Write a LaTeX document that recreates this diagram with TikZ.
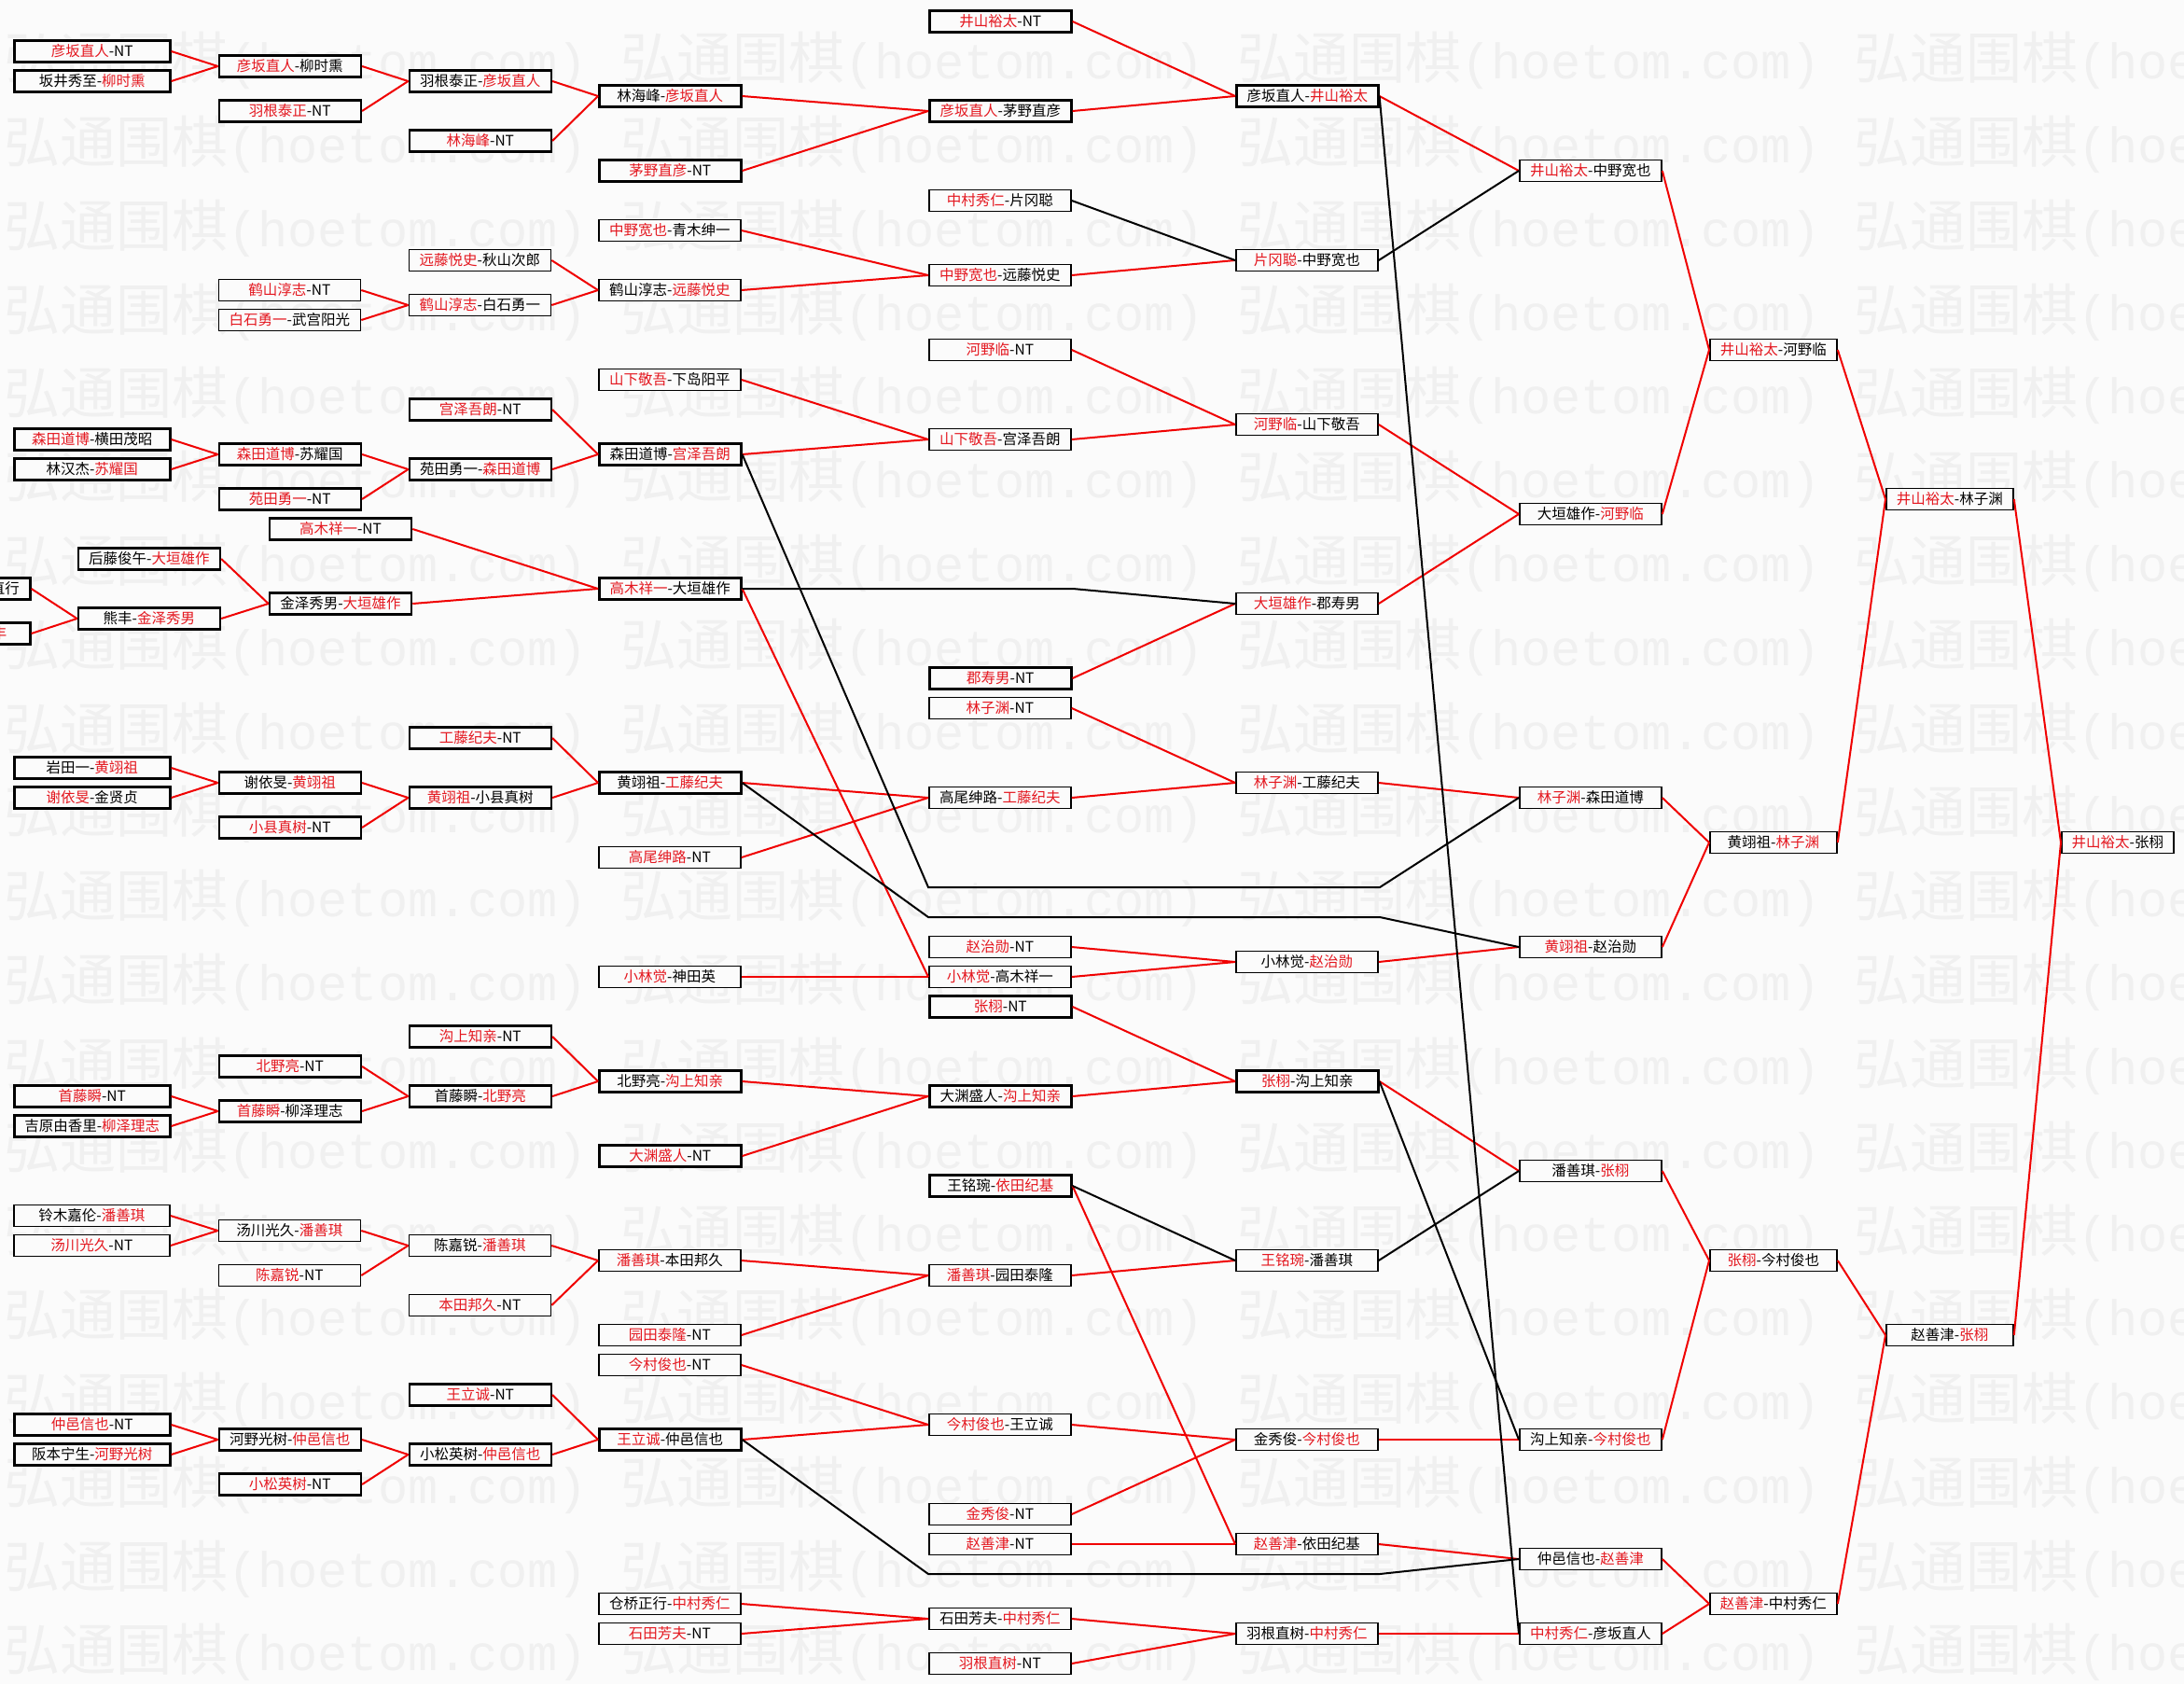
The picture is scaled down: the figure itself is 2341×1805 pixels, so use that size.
\documentclass[tikz,border=0pt]{standalone}
\usepackage{fontspec}
\setmainfont{Noto Sans CJK SC}
\newfontfamily\wmlat{Liberation Mono}
\definecolor{bg}{RGB}{251,251,251}
\definecolor{wmc}{RGB}{240,240,240}
\definecolor{txred}{RGB}{228,24,32}
\definecolor{lnred}{RGB}{240,0,0}
\newcommand\wred[1]{\textcolor{txred}{#1}}
\tikzset{
  box/.style={draw=black, fill=bg, line width=1.8pt, minimum height=23pt, inner sep=0pt, anchor=west, text height=13pt, text depth=1.5pt, font=\fontsize{15.5pt}{16pt}\selectfont},
  heavy/.style={line width=2.6pt},
  wA/.style={minimum width=167pt},
  wB/.style={minimum width=152pt},
  wC/.style={minimum width=136pt},
  wD/.style={minimum width=120pt},
  frag/.style={inner sep=0pt, text height=13pt, text depth=1.5pt, font=\fontsize{15.5pt}{16pt}\selectfont},
  wmk/.style={anchor=west, inner sep=0pt, text=wmc, font=\fontsize{60pt}{62pt}\selectfont},
  rl/.style={draw=lnred, line width=2pt},
  bl/.style={draw=black, line width=2pt},
}
\begin{document}
\begin{tikzpicture}[x=1pt,y=-1pt]
\useasboundingbox (0,0) rectangle (2341,1805);
\clip (0,0) rectangle (2341,1805);
\fill[bg] (0,0) rectangle (2341,1805);
% watermark
\foreach \n in {0,...,19}{
  \foreach \m in {0,...,3}{
    \node[wmk] (wm-\n-\m) at ({4+661*\m},{65+89.8*\n}) {弘通围棋{\wmlat\fontsize{53.6pt}{56pt}\selectfont (hoetom.com)}};
  }
}
% ---- column A (x=14)
\node[box,wA,heavy] (A3) at (14,{7+16*3}) {\wred{彦坂直人}-NT};
\node[box,wA,heavy] (A5) at (14,{7+16*5}) {坂井秀至-\wred{柳时熏}};
\node[box,wA,heavy] (A29) at (14,{7+16*29}) {\wred{森田道博}-横田茂昭};
\node[box,wA,heavy] (A31) at (14,{7+16*31}) {林汉杰-\wred{苏耀国}};
\node[box,wA,heavy] (A51) at (14,{7+16*51}) {岩田一-\wred{黄翊祖}};
\node[box,wA,heavy] (A53) at (14,{7+16*53}) {\wred{谢依旻}-金贤贞};
\node[box,wA,heavy] (A73) at (14,{7+16*73}) {\wred{首藤瞬}-NT};
\node[box,wA,heavy] (A75) at (14,{7+16*75}) {吉原由香里-\wred{柳泽理志}};
\node[box,wA] (A81) at (14,{7+16*81}) {铃木嘉伦-\wred{潘善琪}};
\node[box,wA] (A83) at (14,{7+16*83}) {\wred{汤川光久}-NT};
\node[box,wA,heavy] (A95) at (14,{7+16*95}) {\wred{仲邑信也}-NT};
\node[box,wA,heavy] (A97) at (14,{7+16*97}) {阪本宁生-\wred{河野光树}};
% ---- cut boxes at left edge
\node[box,wB,heavy,anchor=east] (Z39) at (33.6,{7+16*39}) {};
\node[frag,anchor=east] (Z39t) at (21,{7+16*39}) {直行};
\node[box,wB,heavy,anchor=east] (Z42) at (33.6,{7+16*42}) {};
\node[frag,anchor=east] (Z42t) at (7.5,{7+16*42}) {\wred{丰}};
% ---- column AA (x=82.6)
\node[box,wB,heavy] (AA37) at (82.6,{7+16*37}) {后藤俊午-\wred{大垣雄作}};
\node[box,wB,heavy] (AA41) at (82.6,{7+16*41}) {熊丰-\wred{金泽秀男}};
% ---- column B (x=233.5)
\node[box,wB,heavy] (B4) at (233.5,{7+16*4}) {\wred{彦坂直人}-柳时熏};
\node[box,wB,heavy] (B7) at (233.5,{7+16*7}) {\wred{羽根泰正}-NT};
\node[box,wB] (B19) at (233.5,{7+16*19}) {\wred{鹤山淳志}-NT};
\node[box,wB] (B21) at (233.5,{7+16*21}) {\wred{白石勇一}-武宫阳光};
\node[box,wB,heavy] (B30) at (233.5,{7+16*30}) {\wred{森田道博}-苏耀国};
\node[box,wB,heavy] (B33) at (233.5,{7+16*33}) {\wred{苑田勇一}-NT};
\node[box,wB,heavy] (B52) at (233.5,{7+16*52}) {谢依旻-\wred{黄翊祖}};
\node[box,wB,heavy] (B55) at (233.5,{7+16*55}) {\wred{小县真树}-NT};
\node[box,wB,heavy] (B71) at (233.5,{7+16*71}) {\wred{北野亮}-NT};
\node[box,wB,heavy] (B74) at (233.5,{7+16*74}) {\wred{首藤瞬}-柳泽理志};
\node[box,wB] (B82) at (233.5,{7+16*82}) {汤川光久-\wred{潘善琪}};
\node[box,wB] (B85) at (233.5,{7+16*85}) {\wred{陈嘉锐}-NT};
\node[box,wB,heavy] (B96) at (233.5,{7+16*96}) {河野光树-\wred{仲邑信也}};
\node[box,wB,heavy] (B99) at (233.5,{7+16*99}) {\wred{小松英树}-NT};
% ---- column BB (x=287.7)
\node[box,wB,heavy] (BB35) at (287.7,{7+16*35}) {\wred{高木祥一}-NT};
\node[box,wB,heavy] (BB40) at (287.7,{7+16*40}) {金泽秀男-\wred{大垣雄作}};
% ---- column C (x=437.5)
\node[box,wB,heavy] (C5) at (437.5,{7+16*5}) {羽根泰正-\wred{彦坂直人}};
\node[box,wB,heavy] (C9) at (437.5,{7+16*9}) {\wred{林海峰}-NT};
\node[box,wB] (C17) at (437.5,{7+16*17}) {\wred{远藤悦史}-秋山次郎};
\node[box,wB] (C20) at (437.5,{7+16*20}) {\wred{鹤山淳志}-白石勇一};
\node[box,wB,heavy] (C27) at (437.5,{7+16*27}) {\wred{宫泽吾朗}-NT};
\node[box,wB,heavy] (C31) at (437.5,{7+16*31}) {苑田勇一-\wred{森田道博}};
\node[box,wB,heavy] (C49) at (437.5,{7+16*49}) {\wred{工藤纪夫}-NT};
\node[box,wB,heavy] (C53) at (437.5,{7+16*53}) {\wred{黄翊祖}-小县真树};
\node[box,wB,heavy] (C69) at (437.5,{7+16*69}) {\wred{沟上知亲}-NT};
\node[box,wB,heavy] (C73) at (437.5,{7+16*73}) {首藤瞬-\wred{北野亮}};
\node[box,wB] (C83) at (437.5,{7+16*83}) {陈嘉锐-\wred{潘善琪}};
\node[box,wB] (C87) at (437.5,{7+16*87}) {\wred{本田邦久}-NT};
\node[box,wB,heavy] (C93) at (437.5,{7+16*93}) {\wred{王立诚}-NT};
\node[box,wB,heavy] (C97) at (437.5,{7+16*97}) {小松英树-\wred{仲邑信也}};
% ---- column D (x=641)
\node[box,wB,heavy] (D6) at (641,{7+16*6}) {林海峰-\wred{彦坂直人}};
\node[box,wB,heavy] (D11) at (641,{7+16*11}) {\wred{茅野直彦}-NT};
\node[box,wB] (D15) at (641,{7+16*15}) {\wred{中野宽也}-青木绅一};
\node[box,wB] (D19) at (641,{7+16*19}) {鹤山淳志-\wred{远藤悦史}};
\node[box,wB] (D25) at (641,{7+16*25}) {\wred{山下敬吾}-下岛阳平};
\node[box,wB,heavy] (D30) at (641,{7+16*30}) {森田道博-\wred{宫泽吾朗}};
\node[box,wB,heavy] (D39) at (641,{7+16*39}) {\wred{高木祥一}-大垣雄作};
\node[box,wB,heavy] (D52) at (641,{7+16*52}) {黄翊祖-\wred{工藤纪夫}};
\node[box,wB] (D57) at (641,{7+16*57}) {\wred{高尾绅路}-NT};
\node[box,wB] (D65) at (641,{7+16*65}) {\wred{小林觉}-神田英};
\node[box,wB,heavy] (D72) at (641,{7+16*72}) {北野亮-\wred{沟上知亲}};
\node[box,wB,heavy] (D77) at (641,{7+16*77}) {\wred{大渊盛人}-NT};
\node[box,wB] (D84) at (641,{7+16*84}) {\wred{潘善琪}-本田邦久};
\node[box,wB] (D89) at (641,{7+16*89}) {\wred{园田泰隆}-NT};
\node[box,wB] (D91) at (641,{7+16*91}) {\wred{今村俊也}-NT};
\node[box,wB,heavy] (D96) at (641,{7+16*96}) {\wred{王立诚}-仲邑信也};
\node[box,wB] (D107) at (641,{7+16*107}) {仓桥正行-\wred{中村秀仁}};
\node[box,wB] (D109) at (641,{7+16*109}) {\wred{石田芳夫}-NT};
% ---- column E (x=995)
\node[box,wB,heavy] (E1) at (995,{7+16*1}) {\wred{井山裕太}-NT};
\node[box,wB,heavy] (E7) at (995,{7+16*7}) {\wred{彦坂直人}-茅野直彦};
\node[box,wB] (E13) at (995,{7+16*13}) {\wred{中村秀仁}-片冈聪};
\node[box,wB] (E18) at (995,{7+16*18}) {\wred{中野宽也}-远藤悦史};
\node[box,wB] (E23) at (995,{7+16*23}) {\wred{河野临}-NT};
\node[box,wB] (E29) at (995,{7+16*29}) {\wred{山下敬吾}-宫泽吾朗};
\node[box,wB,heavy] (E45) at (995,{7+16*45}) {\wred{郡寿男}-NT};
\node[box,wB] (E47) at (995,{7+16*47}) {\wred{林子渊}-NT};
\node[box,wB] (E53) at (995,{7+16*53}) {高尾绅路-\wred{工藤纪夫}};
\node[box,wB] (E63) at (995,{7+16*63}) {\wred{赵治勋}-NT};
\node[box,wB] (E65) at (995,{7+16*65}) {\wred{小林觉}-高木祥一};
\node[box,wB,heavy] (E67) at (995,{7+16*67}) {\wred{张栩}-NT};
\node[box,wB,heavy] (E73) at (995,{7+16*73}) {大渊盛人-\wred{沟上知亲}};
\node[box,wB,heavy] (E79) at (995,{7+16*79}) {王铭琬-\wred{依田纪基}};
\node[box,wB] (E85) at (995,{7+16*85}) {\wred{潘善琪}-园田泰隆};
\node[box,wB] (E95) at (995,{7+16*95}) {\wred{今村俊也}-王立诚};
\node[box,wB] (E101) at (995,{7+16*101}) {\wred{金秀俊}-NT};
\node[box,wB] (E103) at (995,{7+16*103}) {\wred{赵善津}-NT};
\node[box,wB] (E108) at (995,{7+16*108}) {石田芳夫-\wred{中村秀仁}};
\node[box,wB] (E111) at (995,{7+16*111}) {\wred{羽根直树}-NT};
% ---- column F (x=1324)
\node[box,wB,heavy] (F6) at (1324,{7+16*6}) {彦坂直人-\wred{井山裕太}};
\node[box,wB] (F17) at (1324,{7+16*17}) {\wred{片冈聪}-中野宽也};
\node[box,wB] (F28) at (1324,{7+16*28}) {\wred{河野临}-山下敬吾};
\node[box,wB] (F40) at (1324,{7+16*40}) {\wred{大垣雄作}-郡寿男};
\node[box,wB] (F52) at (1324,{7+16*52}) {\wred{林子渊}-工藤纪夫};
\node[box,wB] (F64) at (1324,{7+16*64}) {小林觉-\wred{赵治勋}};
\node[box,wB,heavy] (F72) at (1324,{7+16*72}) {\wred{张栩}-沟上知亲};
\node[box,wB] (F84) at (1324,{7+16*84}) {\wred{王铭琬}-潘善琪};
\node[box,wB] (F96) at (1324,{7+16*96}) {金秀俊-\wred{今村俊也}};
\node[box,wB] (F103) at (1324,{7+16*103}) {\wred{赵善津}-依田纪基};
\node[box,wB] (F109) at (1324,{7+16*109}) {羽根直树-\wred{中村秀仁}};
% ---- column G (x=1628)
\node[box,wB] (G11) at (1628,{7+16*11}) {\wred{井山裕太}-中野宽也};
\node[box,wB] (G34) at (1628,{7+16*34}) {大垣雄作-\wred{河野临}};
\node[box,wB] (G53) at (1628,{7+16*53}) {\wred{林子渊}-森田道博};
\node[box,wB] (G63) at (1628,{7+16*63}) {\wred{黄翊祖}-赵治勋};
\node[box,wB] (G78) at (1628,{7+16*78}) {潘善琪-\wred{张栩}};
\node[box,wB] (G96) at (1628,{7+16*96}) {沟上知亲-\wred{今村俊也}};
\node[box,wB] (G104) at (1628,{7+16*104}) {仲邑信也-\wred{赵善津}};
\node[box,wB] (G109) at (1628,{7+16*109}) {\wred{中村秀仁}-彦坂直人};
% ---- column H (x=1832)
\node[box,wC] (H23) at (1832,{7+16*23}) {\wred{井山裕太}-河野临};
\node[box,wC] (H56) at (1832,{7+16*56}) {黄翊祖-\wred{林子渊}};
\node[box,wC] (H84) at (1832,{7+16*84}) {\wred{张栩}-今村俊也};
\node[box,wC] (H107) at (1832,{7+16*107}) {\wred{赵善津}-中村秀仁};
% ---- column I (x=2021)
\node[box,wC] (I33) at (2021,{7+16*33}) {\wred{井山裕太}-林子渊};
\node[box,wC] (I89) at (2021,{7+16*89}) {赵善津-\wred{张栩}};
% ---- column J (x=2209)
\node[box,wD] (J56) at (2209,{7+16*56}) {\wred{井山裕太}-张栩};
% ---- corner points of the long loser lines
\coordinate (q1) at (1150,631);
\coordinate (p1) at (995,951);
\coordinate (p2) at (1479,951);
\coordinate (r1) at (995,983);
\coordinate (r2) at (1479,983);
\coordinate (s1) at (995,1687);
\coordinate (s2) at (1479,1687);
% ---- red connectors
\foreach \a/\b in {A3/B4,A5/B4,B4/C5,B7/C5,C5/D6,C9/D6,D6/E7,D11/E7,E1/F6,E7/F6,F6/G11,
  E18/F17,D15/E18,D19/E18,C17/D19,C20/D19,B19/C20,B21/C20,G11/H23,G34/H23,H23/I33,H56/I33,I33/J56,I89/J56,
  E23/F28,E29/F28,D25/E29,D30/E29,C27/D30,C31/D30,B30/C31,B33/C31,A29/B30,A31/B30,F28/G34,F40/G34,
  BB35/D39,BB40/D39,AA37/BB40,AA41/BB40,Z39/AA41,Z42/AA41,D39/E65,E45/F40,
  E47/F52,E53/F52,D52/E53,D57/E53,C49/D52,C53/D52,B52/C53,B55/C53,A51/B52,A53/B52,
  F52/G53,G53/H56,G63/H56,F64/G63,E63/F64,E65/F64,D65/E65,
  E67/F72,E73/F72,D72/E73,D77/E73,C69/D72,C73/D72,B71/C73,B74/C73,A73/B74,A75/B74,
  F72/G78,G78/H84,G96/H84,H84/I89,H107/I89,E85/F84,E79/F103,
  D84/E85,D89/E85,C83/D84,C87/D84,B82/C83,B85/C83,A81/B82,A83/B82,
  D91/E95,D96/E95,E95/F96,E101/F96,F96/G96,E103/F103,F103/G104,
  G104/H107,G109/H107,F109/G109,E108/F109,E111/F109,D107/E108,D109/E108,
  C93/D96,C97/D96,B96/C97,B99/C97,A95/B96,A97/B96}
  {\draw[rl] (\a.east) -- (\b.west);}
% ---- black connectors
\foreach \a/\b in {F6/G109,E13/F17,F17/G11,F72/G96,F84/G78,E79/F84}
  {\draw[bl] (\a.east) -- (\b.west);}
\draw[bl] (D39.east) -- (q1) -- (F40.west);
\draw[bl] (D30.east) -- (p1) -- (p2) -- (G53.west);
\draw[bl] (D52.east) -- (r1) -- (r2) -- (G63.west);
\draw[bl] (D96.east) -- (s1) -- (s2) -- (G104.west);
\end{tikzpicture}
\end{document}
